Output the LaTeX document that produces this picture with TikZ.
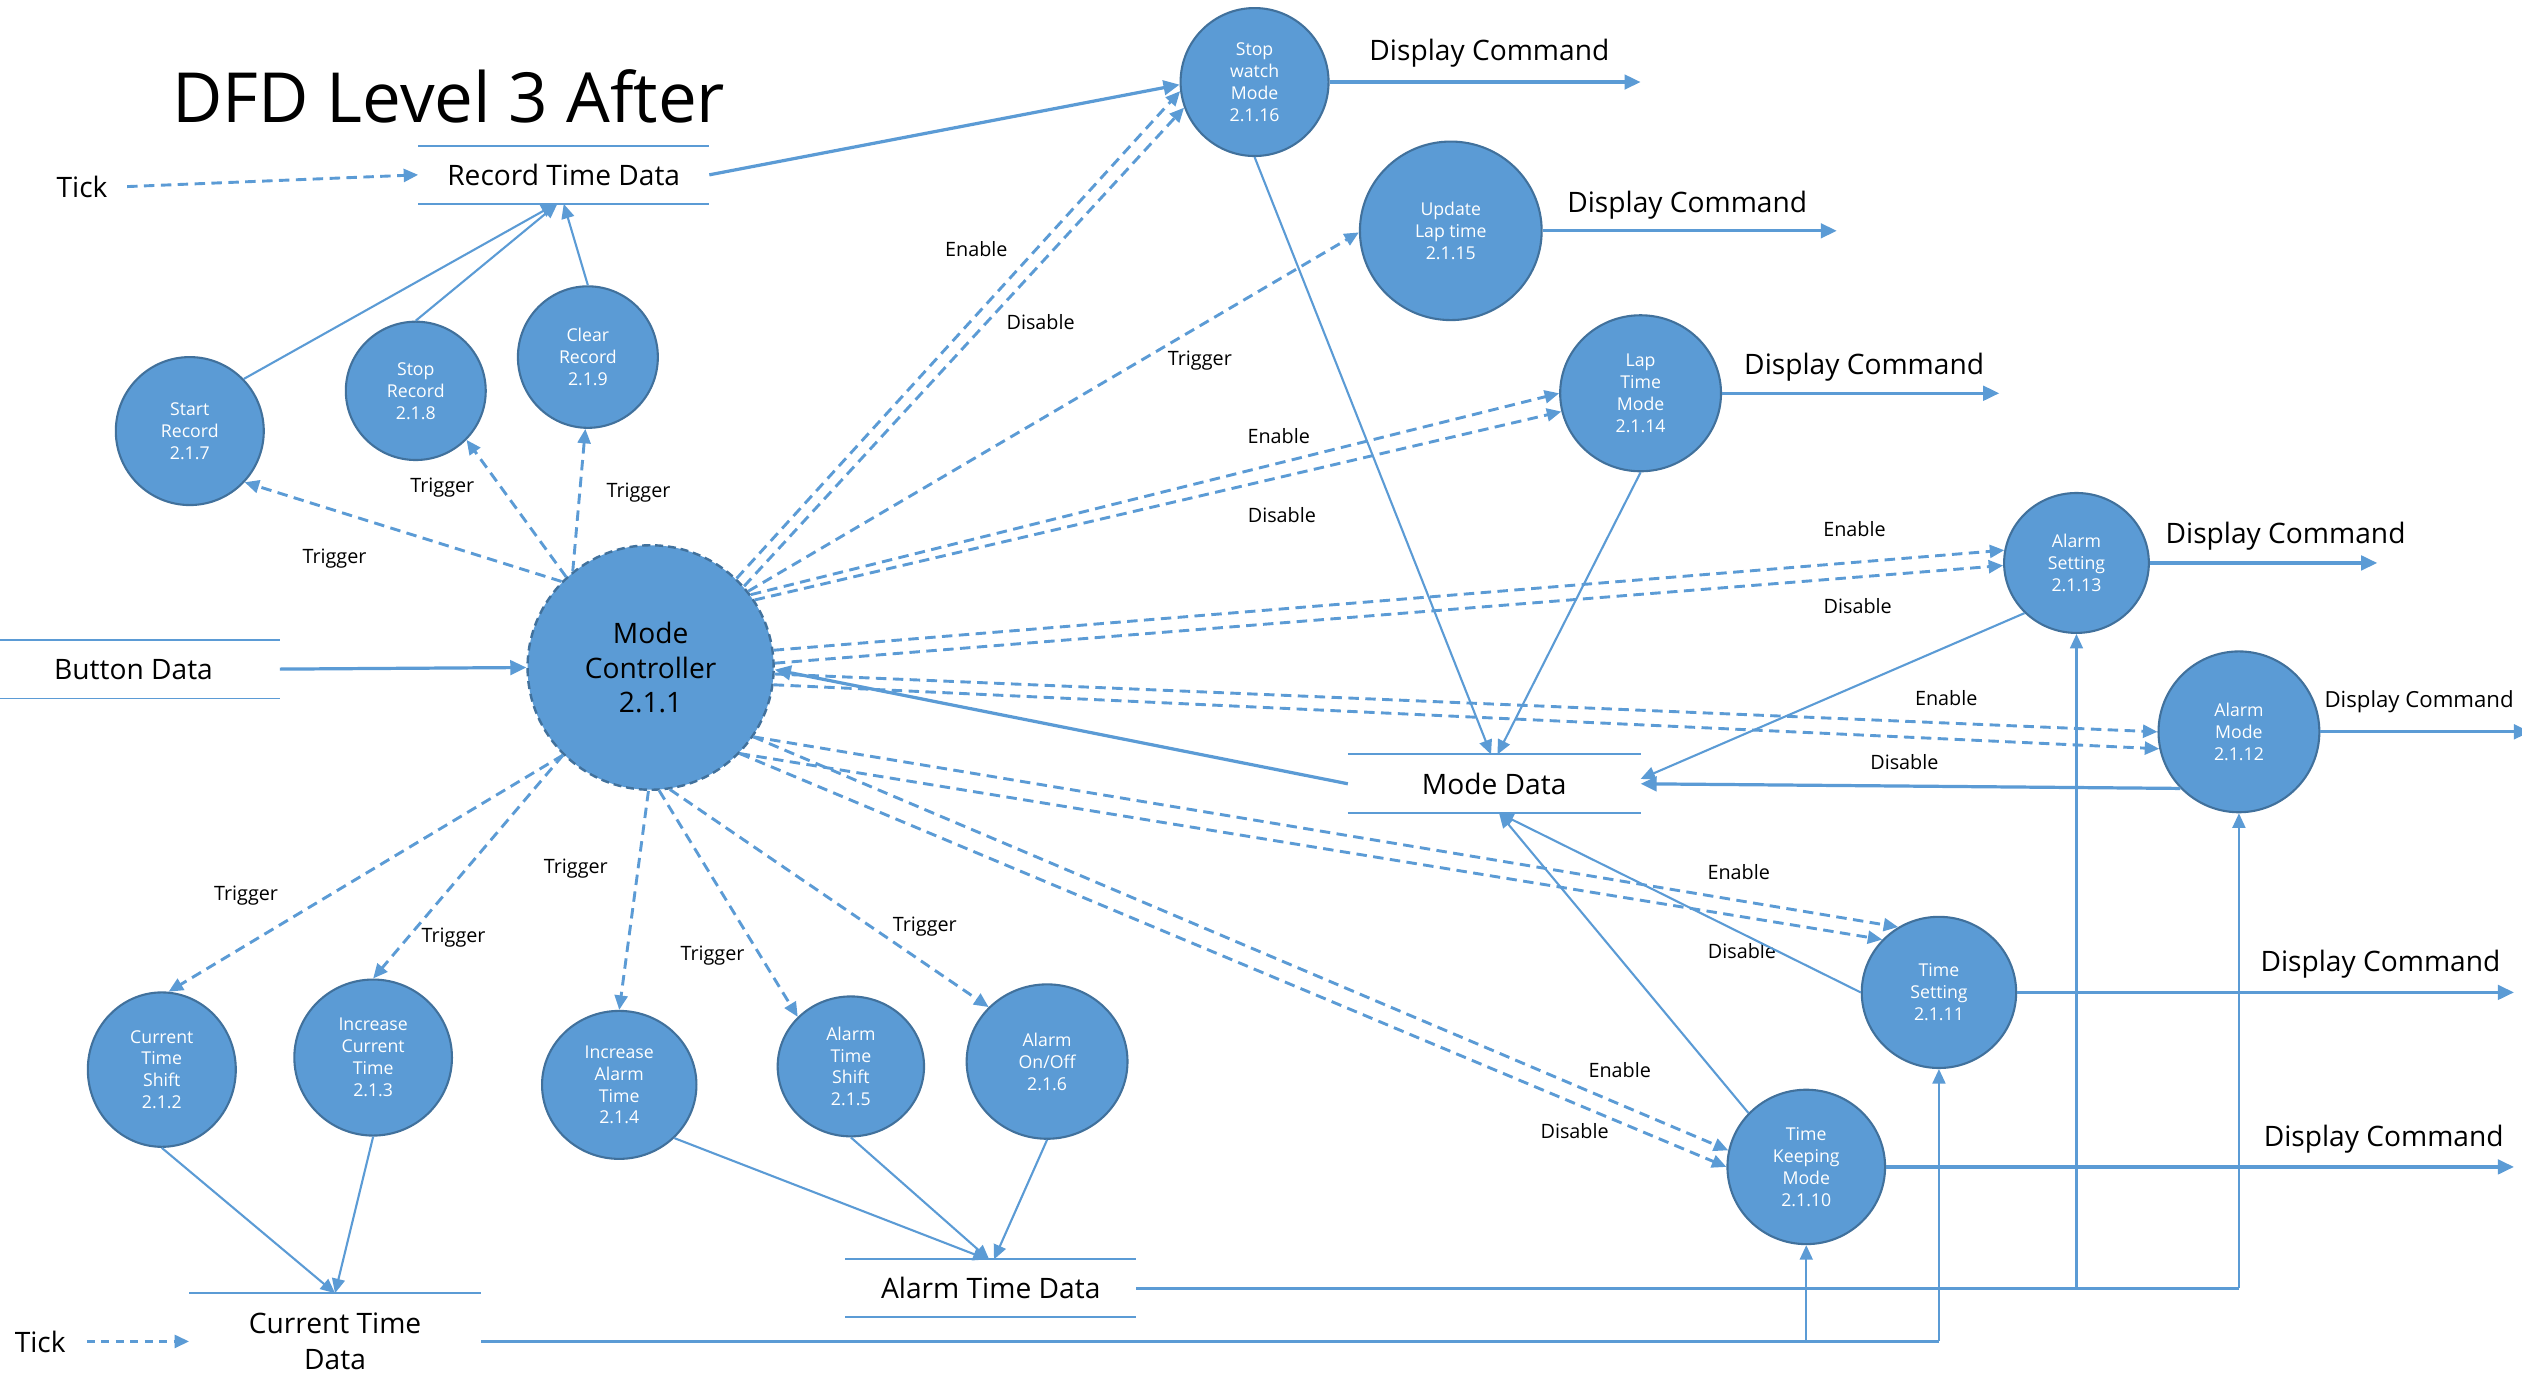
\documentclass[tikz,border=0pt]{standalone}
\usepackage{fontspec}
\setmainfont{Open Sans}
\usetikzlibrary{shapes.geometric,arrows.meta,calc}
\definecolor{fillblue}{HTML}{5B9BD5}
\definecolor{edgeblue}{HTML}{41719C}
\definecolor{lineblue}{HTML}{5B9BD5}
\tikzset{
  proc/.style={ellipse, fill=fillblue, draw=edgeblue, line width=1.3pt, inner sep=0pt,
    text=white, font=\fontsize{11}{13.6}\selectfont, align=center},
  ctrlproc/.style={proc, line width=1.5pt, dash pattern=on 5pt off 3pt, text=black,
    font=\fontsize{17.5}{21.5}\selectfont},
  store/.style={inner sep=0pt, outer sep=0pt, font=\fontsize{17.5}{22}\selectfont, align=center},
  storeline/.style={draw=lineblue, line width=1.2pt},
  flow/.style={draw=lineblue, line width=1.3pt, -{Triangle[length=9pt,width=8pt]}},
  bigflow/.style={draw=lineblue, line width=2pt, -{Triangle[length=10pt,width=9pt]}},
  ctl/.style={draw=lineblue, line width=1.8pt, dash pattern=on 6.5pt off 4pt, -{Triangle[length=9pt,width=8pt]}},
  lbl/.style={inner sep=0pt, font=\fontsize{12.3}{14}\selectfont},
  dclbl/.style={inner sep=0pt, font=\fontsize{17.5}{20}\selectfont},
  plain/.style={inner sep=0pt, font=\fontsize{17.5}{20}\selectfont},
}
\begin{document}
\begin{tikzpicture}[x=1pt,y=-1pt]
\fill[white] (0,0) rectangle (1568,860);
\useasboundingbox (0,0) rectangle (1568,860);

% title
\node[inner sep=0pt, font=\fontsize{43}{48}\selectfont] (title) at (279,60) {DFD Level 3 After};

% processes
\node[proc, minimum width=92pt, minimum height=92pt] (sw) at (780,51) {Stop\\watch\\Mode\\2.1.16};
\node[proc, minimum width=113pt, minimum height=111pt] (ul) at (902,143.5) {Update\\Lap time\\2.1.15};
\node[proc, minimum width=100pt, minimum height=97pt] (lt) at (1020,244.5) {Lap\\Time\\Mode\\2.1.14};
\node[proc, minimum width=90pt, minimum height=87pt] (as) at (1291,350) {Alarm\\Setting\\2.1.13};
\node[proc, minimum width=100pt, minimum height=100pt] (am) at (1392,455) {Alarm\\Mode\\2.1.12};
\node[proc, minimum width=96pt, minimum height=94pt] (ts) at (1205.5,617) {Time\\Setting\\2.1.11};
\node[proc, minimum width=98pt, minimum height=96pt] (tk) at (1123,725.5) {Time\\Keeping\\Mode\\2.1.10};
\node[ctrlproc, minimum width=153pt, minimum height=152pt] (mc) at (404.5,415) {Mode\\Controller\\2.1.1};
\node[proc, minimum width=92pt, minimum height=92pt] (sr) at (118,268) {Start\\Record\\2.1.7};
\node[proc, minimum width=87pt, minimum height=86pt] (stR) at (258.5,243) {Stop\\Record\\2.1.8};
\node[proc, minimum width=87pt, minimum height=88pt] (cr) at (365.5,222) {Clear\\Record\\2.1.9};
\node[proc, minimum width=92pt, minimum height=96pt] (cts) at (100.6,665) {Current\\Time\\Shift\\2.1.2};
\node[proc, minimum width=98pt, minimum height=97pt] (ict) at (232,657.5) {Increase\\Current\\Time\\2.1.3};
\node[proc, minimum width=96pt, minimum height=92pt] (iat) at (385,674.5) {Increase\\Alarm\\Time\\2.1.4};
\node[proc, minimum width=91pt, minimum height=87pt] (ats) at (529,663) {Alarm\\Time\\Shift\\2.1.5};
\node[proc, minimum width=100pt, minimum height=96pt] (aoo) at (651,660) {Alarm\\On/Off\\2.1.6};

% data stores
\node[store, minimum width=181pt, minimum height=36.2pt] (rtd) at (350.5,108.7) {Record Time Data};
\node[store, minimum width=182pt, minimum height=36.5pt] (md) at (929,487.3) {Mode Data};
\node[store, minimum width=182pt, minimum height=36.5pt] (bd) at (83,416) {Button Data};
\node[store, minimum width=181pt, minimum height=36pt] (atd) at (616,801) {Alarm Time Data};
\node[store, minimum width=181.5pt, minimum height=60pt] (ctd) at (208.3,834) {Current Time\\Data};
\foreach \s in {rtd,md,bd,atd,ctd}
  \draw[storeline] (\s.north west) -- (\s.north east) (\s.south west) -- (\s.south east);

% external inputs
\node[plain] (tick1) at (51,116) {Tick};
\node[plain] (tick2) at (25,834) {Tick};
\draw[ctl] ([xshift=12pt]tick1.east) -- (rtd.west);
\draw[ctl, dash pattern=on 5pt off 4pt] ([xshift=13pt]tick2.east) -- (ctd.west);
\draw[bigflow] (bd.east) -- (mc.west);

% record flows
\draw[bigflow] (rtd.east) -- (sw.182);
\draw[flow] (sr.44) -- ([xshift=-5pt]rtd.south);
\draw[flow] (stR.north) -- ([xshift=-4pt]rtd.south);
\draw[flow] (cr.north) -- (rtd.south);

% triggers top-left
\draw[ctl] (mc.136) -- (sr.-43);
\draw[ctl] (mc.133) -- (stR.-44);
\draw[ctl] (mc.129) -- (cr.-92);
\node[lbl] (l1) at (208,347) {Trigger};
\node[lbl] (l2) at (275,303) {Trigger};
\node[lbl] (l3) at (397,306) {Trigger};

% top-right controls
\draw[ctl] (mc.46) -- (sw.187);
\draw[ctl] (mc.41) -- (sw.200);
\draw[ctl] (mc.38) -- (ul.181);
\draw[ctl] (mc.36) -- (lt.180);
\draw[ctl] (mc.33) -- (lt.193);
\node[lbl] (l4) at (607,155) {Enable};
\node[lbl] (l5) at (647,200) {Disable};
\node[lbl] (l6) at (746,224) {Trigger};
\node[lbl] (l7) at (795,271) {Enable};
\node[lbl] (l8) at (797,320) {Disable};

% right controls
\draw[ctl] (mc.8) -- (as.170);
\draw[ctl] (mc.2) -- (as.182);
\draw[ctl] (mc.-3) -- (am.180);
\draw[ctl] (mc.-8) -- (am.192);
\node[lbl] (l9) at (1153,329) {Enable};
\node[lbl] (l10) at (1155,377) {Disable};
\node[lbl] (l11) at (1210,434) {Enable};
\node[lbl] (l12) at (1184,474) {Disable};

% lower-right controls
\draw[ctl] (mc.-34) -- (ts.122);
\draw[ctl] (mc.-44) -- (ts.137);
\draw[ctl] (mc.-34) -- (tk.168);
\draw[ctl] (mc.-44) -- (tk.180);
\node[lbl] (l13) at (1081,542) {Enable};
\node[lbl] (l14) at (1083,591) {Disable};
\node[lbl] (l15) at (1007,665) {Enable};
\node[lbl] (l16) at (979,703) {Disable};

% bottom triggers
\draw[ctl] (mc.-135) -- (cts.85);
\draw[ctl] (mc.-135) -- (ict.north);
\draw[ctl] (mc.-91) -- (iat.north);
\draw[ctl] (mc.-86) -- (ats.137);
\draw[ctl] (mc.-81) -- (aoo.137);
\node[lbl] (l17) at (153,557) {Trigger};
\node[lbl] (l18) at (282,583) {Trigger};
\node[lbl] (l19) at (358,540) {Trigger};
\node[lbl] (l20) at (443,594) {Trigger};
\node[lbl] (l21) at (575,576) {Trigger};

% bottom data flows
\draw[flow] (cts.south) -- (ctd.north);
\draw[flow] (ict.south) -- (ctd.north);
\draw[flow] (iat.-44) -- ([xshift=-2pt]atd.north);
\draw[flow] (ats.south) -- ([xshift=-1pt]atd.north);
\draw[flow] (aoo.south) -- ([xshift=2pt]atd.north);

% mode data flows
\draw[flow] (sw.south) -- ([xshift=-2pt]md.north);
\draw[flow] (lt.south) -- ([xshift=2pt]md.north);
\draw[flow] (as.224) -- ([yshift=3pt]md.east);
\draw[bigflow] (am.224) -- (md.east);
\draw[flow] (ts.west) -- ([xshift=3pt]md.south);
\draw[flow] (tk.137) -- ([xshift=3pt]md.south);
\draw[bigflow] (md.west) -- (mc.-1);

% time data distribution
\draw[lineblue, line width=2.2pt] (atd.east) -- (am.south |- atd.east);
\draw[flow] (am.south |- atd.east) -- (am.south);
\draw[flow] (as.south |- atd.east) -- (as.south);
\draw[lineblue, line width=2.2pt] (ctd.east) -- (ts.south |- ctd.east);
\draw[flow] (ts.south |- ctd.east) -- (ts.south);
\draw[flow] (tk.south |- ctd.east) -- (tk.south);

% display commands
\coordinate (dc1) at (1020,51);
\coordinate (dc2) at (1142,143.5);
\coordinate (dc3) at (1243,244.5);
\coordinate (dc4) at (1478,350);
\coordinate (dc5) at (1573,455);
\coordinate (dc6) at (1563,617);
\coordinate (dc7) at (1563,725.5);
\draw[bigflow] (sw.east) -- (dc1);
\draw[bigflow] (ul.east) -- (dc2);
\draw[bigflow] (lt.east) -- (dc3);
\draw[bigflow] (as.east) -- (dc4);
\draw[bigflow] (am.east) -- (dc5);
\draw[bigflow] (ts.east) -- (dc6);
\draw[bigflow] (tk.east) -- (dc7);
\node[dclbl] (d1) at (926,33) {Display Command};
\node[dclbl] (d2) at (1049,127.5) {Display Command};
\node[dclbl] (d3) at (1159,228) {Display Command};
\node[dclbl] (d4) at (1421,333.5) {Display Command};
\node[dclbl, anchor=west, font=\fontsize{13.8}{17}\selectfont] (d5) at (1445,436) {Display Command};
\node[dclbl] (d6) at (1480,599.5) {Display Command};
\node[dclbl] (d7) at (1482,708.5) {Display Command};
\end{tikzpicture}
\end{document}
